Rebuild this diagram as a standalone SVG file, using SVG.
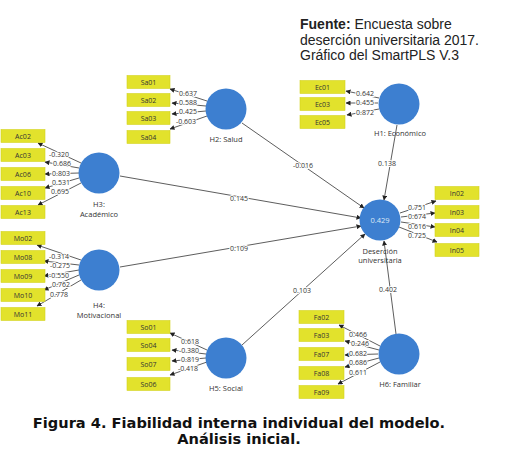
<svg xmlns="http://www.w3.org/2000/svg" width="523" height="458" viewBox="0 0 523 458">
<style>
.bx{fill:#e2e22c;stroke:#d4d420;stroke-width:0.6}
.bt{font-family:"Open Sans","DejaVu Sans",sans-serif;font-size:7px;fill:#333;text-anchor:middle}
.c{fill:#3d7fd0}
.lb{font-family:"Open Sans","DejaVu Sans",sans-serif;font-size:7.5px;fill:#333;text-anchor:middle}
.v{font-family:"Open Sans","DejaVu Sans",sans-serif;font-size:7px;fill:#333;text-anchor:middle;stroke:#fff;stroke-width:2;paint-order:stroke;stroke-linejoin:round}
.ln{stroke:#333;stroke-width:0.8;fill:none;marker-end:url(#ah)}
.hd{font-family:"Liberation Sans",Arial,sans-serif;font-size:14px;fill:#222}
.cap{font-family:"DejaVu Sans",Verdana,sans-serif;font-size:14.6px;font-weight:bold;fill:#111;text-anchor:middle}
</style>
<defs>
<marker id="ah" viewBox="0 0 10 10" refX="9" refY="5" markerWidth="5" markerHeight="5" orient="auto" markerUnits="userSpaceOnUse">
<path d="M0,0 L10,5 L0,10 z" fill="#222"/>
</marker>
</defs>
<rect width="523" height="458" fill="#fff"/>

<g id="connectors">
<line class="ln" x1="81" y1="163" x2="38" y2="143"/>
<line class="ln" x1="79" y1="168" x2="45" y2="162"/>
<line class="ln" x1="79" y1="173" x2="45" y2="174"/>
<line class="ln" x1="79" y1="178" x2="45" y2="188"/>
<line class="ln" x1="81" y1="183" x2="38" y2="205"/>
<line class="ln" x1="81" y1="260" x2="37" y2="245"/>
<line class="ln" x1="79" y1="265" x2="44" y2="261"/>
<line class="ln" x1="79" y1="270" x2="44" y2="276"/>
<line class="ln" x1="79" y1="275" x2="44" y2="290"/>
<line class="ln" x1="81" y1="280" x2="37" y2="306"/>
<line class="ln" x1="207" y1="101" x2="170" y2="89"/>
<line class="ln" x1="206" y1="106" x2="172" y2="103"/>
<line class="ln" x1="206" y1="111" x2="172" y2="114"/>
<line class="ln" x1="207" y1="116" x2="170" y2="129"/>
<line class="ln" x1="379" y1="98" x2="346" y2="91"/>
<line class="ln" x1="378" y1="103" x2="346" y2="103"/>
<line class="ln" x1="379" y1="109" x2="347" y2="115"/>
<line class="ln" x1="400" y1="213" x2="436" y2="201"/>
<line class="ln" x1="401" y1="217" x2="435" y2="213"/>
<line class="ln" x1="401" y1="222" x2="435" y2="227"/>
<line class="ln" x1="399" y1="227" x2="437" y2="242"/>
<line class="ln" x1="380" y1="346" x2="339" y2="325"/>
<line class="ln" x1="379" y1="350" x2="345" y2="341"/>
<line class="ln" x1="378" y1="354" x2="345" y2="355"/>
<line class="ln" x1="379" y1="358" x2="345" y2="367"/>
<line class="ln" x1="380" y1="362" x2="338" y2="384"/>
<line class="ln" x1="207" y1="350" x2="170" y2="333"/>
<line class="ln" x1="206" y1="354" x2="172" y2="350"/>
<line class="ln" x1="206" y1="358" x2="172" y2="361"/>
<line class="ln" x1="207" y1="362" x2="170" y2="375"/>
<line class="ln" x1="242" y1="123" x2="364" y2="208"/>
<line class="ln" x1="397" y1="125" x2="384" y2="200"/>
<line class="ln" x1="120" y1="176" x2="361" y2="218"/>
<line class="ln" x1="120" y1="267" x2="361" y2="226"/>
<line class="ln" x1="242" y1="345" x2="365" y2="234"/>
<line class="ln" x1="396" y1="334" x2="384" y2="241"/>

<text class="v" x="59" y="157">-0.320</text>
<text class="v" x="62" y="166">0.686</text>
<text class="v" x="61" y="176">0.803</text>
<text class="v" x="61" y="185">0.531</text>
<text class="v" x="60" y="194">0.695</text>

<text class="v" x="59" y="259">-0.314</text>
<text class="v" x="60" y="268">-0.275</text>
<text class="v" x="59" y="278">-0.550</text>
<text class="v" x="61" y="287">0.762</text>
<text class="v" x="59" y="297">0.778</text>

<text class="v" x="188" y="96">0.637</text>
<text class="v" x="188" y="105">0.588</text>
<text class="v" x="188" y="114">0.425</text>
<text class="v" x="186" y="124">-0.603</text>

<text class="v" x="365" y="96">0.642</text>
<text class="v" x="365" y="105">0.455</text>
<text class="v" x="365" y="115">0.872</text>

<text class="v" x="417" y="210">0.751</text>
<text class="v" x="417" y="219">0.674</text>
<text class="v" x="417" y="229">0.616</text>
<text class="v" x="417" y="238">0.725</text>

<text class="v" x="358" y="337">0.466</text>
<text class="v" x="360" y="346">0.246</text>
<text class="v" x="358" y="356">0.682</text>
<text class="v" x="358" y="365">0.686</text>
<text class="v" x="358" y="375">0.611</text>

<text class="v" x="190" y="344">0.618</text>
<text class="v" x="189" y="353">-0.380</text>
<text class="v" x="190" y="362">0.819</text>
<text class="v" x="188" y="371">-0.418</text>

<text class="v" x="303" y="168">-0.016</text>
<text class="v" x="387" y="166">0.138</text>
<text class="v" x="239" y="201">0.145</text>
<text class="v" x="239" y="251">0.109</text>
<text class="v" x="302" y="293">0.103</text>
<text class="v" x="388" y="292">0.402</text>
</g>

<g id="H3">
<circle class="c" cx="99" cy="173" r="20.5"/>
<text class="lb" x="99" y="207">H3:</text>
<text class="lb" x="99" y="217">Académico</text>
</g>
<g id="H4">
<circle class="c" cx="99" cy="270" r="20.5"/>
<text class="lb" x="99" y="308">H4:</text>
<text class="lb" x="99" y="318">Motivacional</text>
</g>
<g id="H2">
<circle class="c" cx="226" cy="109" r="20.5"/>
<text class="lb" x="226" y="142">H2: Salud</text>
</g>
<g id="H1">
<circle class="c" cx="399" cy="104" r="20.5"/>
<text class="lb" x="400" y="136">H1: Económico</text>
</g>
<g id="Desercion">
<circle class="c" cx="380" cy="220" r="20.5"/>
<text class="lb" x="380" y="223" style="fill:#dde8f6">0.429</text>
<text class="lb" x="380" y="254">Deserción</text>
<text class="lb" x="380" y="263">universitaria</text>
</g>
<g id="H6">
<circle class="c" cx="399" cy="354" r="20.5"/>
<text class="lb" x="400" y="387">H6: Familiar</text>
</g>
<g id="H5">
<circle class="c" cx="226" cy="358" r="20.5"/>
<text class="lb" x="226" y="391">H5: Social</text>
</g>

<g id="Ac">
<rect class="bx" x="1" y="129.5" width="44" height="13"/><text class="bt" x="23" y="138.5">Ac02</text>
<rect class="bx" x="1" y="148.5" width="44" height="13"/><text class="bt" x="23" y="157.5">Ac03</text>
<rect class="bx" x="1" y="167.5" width="44" height="13"/><text class="bt" x="23" y="176.5">Ac06</text>
<rect class="bx" x="1" y="186.5" width="44" height="13"/><text class="bt" x="23" y="195.5">Ac10</text>
<rect class="bx" x="1" y="205.5" width="44" height="13"/><text class="bt" x="23" y="214.5">Ac13</text>
</g>
<g id="Mo">
<rect class="bx" x="1" y="231.5" width="44" height="13"/><text class="bt" x="23" y="240.5">Mo02</text>
<rect class="bx" x="1" y="250.5" width="44" height="13"/><text class="bt" x="23" y="259.5">Mo08</text>
<rect class="bx" x="1" y="269.5" width="44" height="13"/><text class="bt" x="23" y="278.5">Mo09</text>
<rect class="bx" x="1" y="288.5" width="44" height="13"/><text class="bt" x="23" y="297.5">Mo10</text>
<rect class="bx" x="1" y="307.5" width="44" height="13"/><text class="bt" x="23" y="316.5">Mo11</text>
</g>
<g id="Sa">
<rect class="bx" x="127" y="75.5" width="43" height="13"/><text class="bt" x="148.5" y="84.5">Sa01</text>
<rect class="bx" x="127" y="93.5" width="43" height="13"/><text class="bt" x="148.5" y="102.5">Sa02</text>
<rect class="bx" x="127" y="111.5" width="43" height="13"/><text class="bt" x="148.5" y="120.5">Sa03</text>
<rect class="bx" x="127" y="130.5" width="43" height="13"/><text class="bt" x="148.5" y="139.5">Sa04</text>
</g>
<g id="Ec">
<rect class="bx" x="300" y="80.5" width="45" height="13"/><text class="bt" x="322.5" y="89.5">Ec01</text>
<rect class="bx" x="300" y="97.5" width="45" height="13"/><text class="bt" x="322.5" y="106.5">Ec03</text>
<rect class="bx" x="300" y="115.5" width="45" height="13"/><text class="bt" x="322.5" y="124.5">Ec05</text>
</g>
<g id="In">
<rect class="bx" x="435" y="186.5" width="44" height="13"/><text class="bt" x="457" y="195.5">In02</text>
<rect class="bx" x="435" y="205.5" width="44" height="13"/><text class="bt" x="457" y="214.5">In03</text>
<rect class="bx" x="435" y="223.5" width="44" height="13"/><text class="bt" x="457" y="232.5">In04</text>
<rect class="bx" x="435" y="243.5" width="44" height="13"/><text class="bt" x="457" y="252.5">In05</text>
</g>
<g id="Fa">
<rect class="bx" x="299" y="310.5" width="45" height="13"/><text class="bt" x="321.5" y="319.5">Fa02</text>
<rect class="bx" x="299" y="328.5" width="45" height="13"/><text class="bt" x="321.5" y="337.5">Fa03</text>
<rect class="bx" x="299" y="347.5" width="45" height="13"/><text class="bt" x="321.5" y="356.5">Fa07</text>
<rect class="bx" x="299" y="366.5" width="45" height="13"/><text class="bt" x="321.5" y="375.5">Fa08</text>
<rect class="bx" x="299" y="385.5" width="45" height="13"/><text class="bt" x="321.5" y="394.5">Fa09</text>
</g>
<g id="So">
<rect class="bx" x="127" y="320.5" width="43" height="13"/><text class="bt" x="148.5" y="329.5">So01</text>
<rect class="bx" x="127" y="338.5" width="43" height="13"/><text class="bt" x="148.5" y="347.5">So04</text>
<rect class="bx" x="127" y="357.5" width="43" height="13"/><text class="bt" x="148.5" y="366.5">So07</text>
<rect class="bx" x="127" y="377.5" width="43" height="13"/><text class="bt" x="148.5" y="386.5">So06</text>
</g>

<g id="source">
<text class="hd" x="300" y="29"><tspan font-weight="bold">Fuente:</tspan> Encuesta sobre</text>
<text class="hd" x="300" y="45">deserción universitaria 2017.</text>
<text class="hd" x="300" y="60">Gráfico del SmartPLS V.3</text>
</g>
<g id="caption">
<text class="cap" x="239" y="428">Figura 4. Fiabilidad interna individual del modelo.</text>
<text class="cap" x="239" y="444">Análisis inicial.</text>
</g>
</svg>
